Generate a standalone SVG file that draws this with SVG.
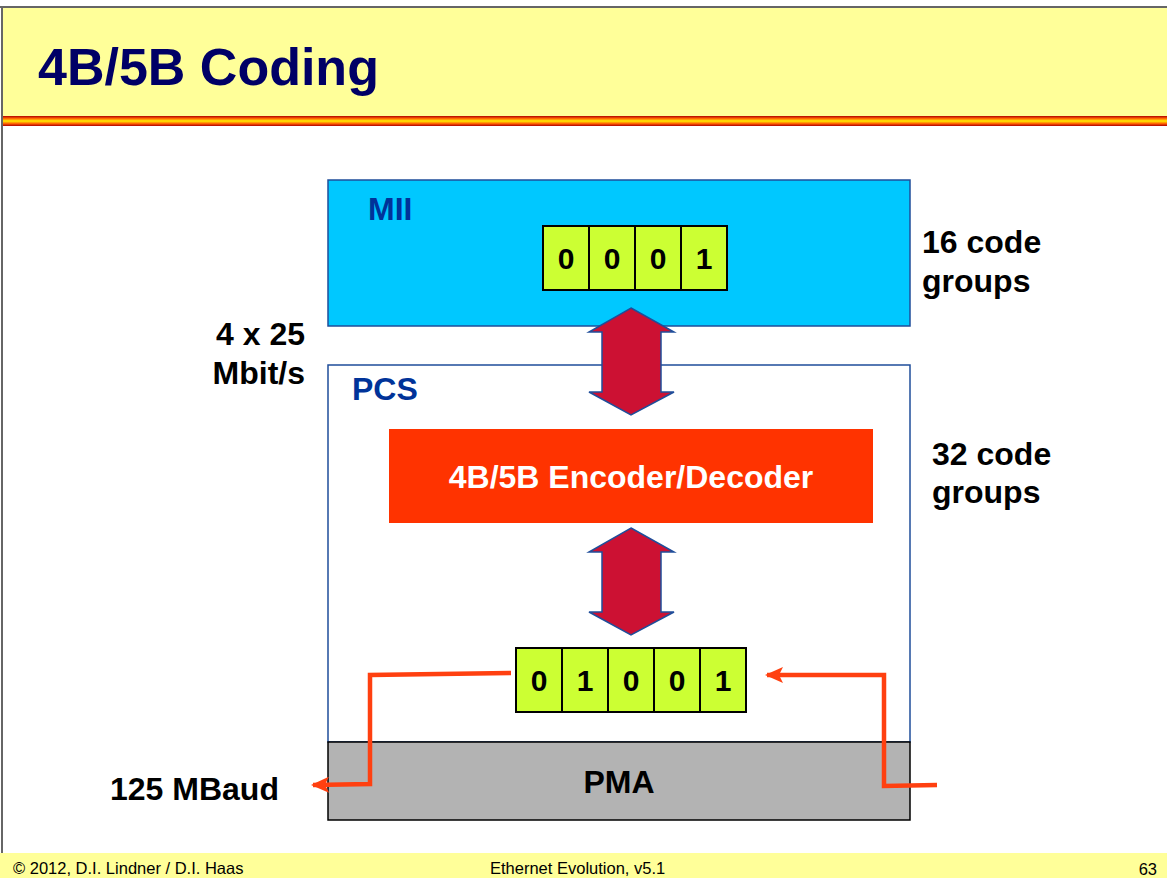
<svg xmlns="http://www.w3.org/2000/svg" width="1167" height="878" viewBox="0 0 1167 878">
<defs>
<linearGradient id="stripe" x1="0" y1="0" x2="0" y2="1">
<stop offset="0" stop-color="#B00000"/>
<stop offset="0.25" stop-color="#FF6600"/>
<stop offset="0.5" stop-color="#FFEE00"/>
<stop offset="0.75" stop-color="#FF6600"/>
<stop offset="1" stop-color="#B00000"/>
</linearGradient>
<marker id="ah2" markerWidth="18" markerHeight="16" refX="16" refY="8" orient="auto" markerUnits="userSpaceOnUse">
<path d="M0,0 L18,8 L0,16 L4,8 Z" fill="#FF4010"/>
</marker>
</defs>
<style>
text{font-family:"Liberation Sans",Arial,sans-serif;font-weight:bold}
.lbl{font-size:32px;fill:#000}
.blue{font-size:32px;fill:#003399}
.bit{fill:#CCFF33;stroke:#000;stroke-width:2}
.dig{font-size:30px;fill:#000;text-anchor:middle}
.dbl{fill:#CC1133;stroke:#1F4E9A;stroke-width:1.5}
.wire{fill:none;stroke:#FF4010;stroke-width:4.5}
.foot{font-size:16.5px;font-weight:normal;fill:#000}
</style>
<rect width="1167" height="878" fill="#fff"/>
<g id="frame">
<rect x="3" y="8" width="1164" height="108" fill="#FFFF99"/>
<rect x="3" y="116" width="1164" height="10" fill="url(#stripe)"/>
<rect x="0" y="853" width="1167" height="25" fill="#FFFF99"/>
<line x1="0" y1="7" x2="1167" y2="7" stroke="#666" stroke-width="2"/>
<line x1="2" y1="7" x2="2" y2="853" stroke="#666" stroke-width="2"/>
<text x="38" y="85" font-size="52" fill="#000066">4B/5B Coding</text>
<text class="foot" x="13" y="874">© 2012, D.I. Lindner / D.I. Haas</text>
<text class="foot" x="490" y="874">Ethernet Evolution, v5.1</text>
<text class="foot" x="1157" y="875" font-size="18" text-anchor="end">63</text>
</g>
<g id="mii">
<rect x="328" y="180" width="582" height="146" fill="#00C8FF" stroke="#1F4E9A" stroke-width="1.5"/>
<text class="blue" x="368" y="220">MII</text>
<rect class="bit" x="543" y="226" width="46" height="64"/>
<rect class="bit" x="589" y="226" width="46" height="64"/>
<rect class="bit" x="635" y="226" width="46" height="64"/>
<rect class="bit" x="681" y="226" width="46" height="64"/>
<text class="dig" x="566" y="269">0</text>
<text class="dig" x="612" y="269">0</text>
<text class="dig" x="658" y="269">0</text>
<text class="dig" x="704" y="269">1</text>
</g>
<g id="pcs">
<rect x="328" y="365" width="582" height="377" fill="#fff" stroke="#1F4E9A" stroke-width="1.5"/>
<text class="blue" x="352" y="400">PCS</text>
</g>
<g id="encoder">
<rect x="389" y="429" width="484" height="94" fill="#FF3300"/>
<text x="631" y="488" font-size="32" fill="#fff" text-anchor="middle">4B/5B Encoder/Decoder</text>
</g>
<g id="pma">
<rect x="328" y="742" width="582" height="78" fill="#B3B3B3" stroke="#000" stroke-width="1.5"/>
<text class="lbl" x="619" y="793" text-anchor="middle">PMA</text>
</g>
<g id="code5">
<rect class="bit" x="516" y="648" width="46" height="64"/>
<rect class="bit" x="562" y="648" width="46" height="64"/>
<rect class="bit" x="608" y="648" width="46" height="64"/>
<rect class="bit" x="654" y="648" width="46" height="64"/>
<rect class="bit" x="700" y="648" width="46" height="64"/>
<text class="dig" x="539" y="691">0</text>
<text class="dig" x="585" y="691">1</text>
<text class="dig" x="631" y="691">0</text>
<text class="dig" x="677" y="691">0</text>
<text class="dig" x="723" y="691">1</text>
</g>
<g id="labels">
<text class="lbl" x="922" y="253">16 code</text>
<text class="lbl" x="922" y="292">groups</text>
<text class="lbl" x="932" y="465">32 code</text>
<text class="lbl" x="932" y="503">groups</text>
<text class="lbl" x="305" y="345" text-anchor="end">4 x 25</text>
<text class="lbl" x="305" y="384" text-anchor="end">Mbit/s</text>
<text class="lbl" x="110" y="800">125 MBaud</text>
</g>
<g id="connectors">
<polygon class="dbl" points="631,308 674,332 661,332 661,392 674,392 631,415 589,392 602,392 602,332 589,332"/>
<polygon class="dbl" points="631,528 674,552 661,552 661,612 674,612 631,635 589,612 602,612 602,552 589,552"/>
<polyline class="wire" points="511,673 370,675 370,784 313,785" marker-end="url(#ah2)"/>
<polyline class="wire" points="937,785 884,786 884,675 767,675" marker-end="url(#ah2)"/>
</g>
</svg>
